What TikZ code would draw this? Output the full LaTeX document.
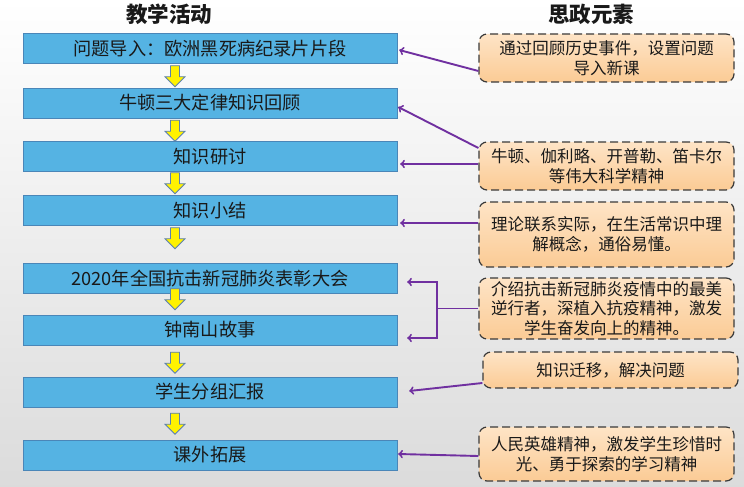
\documentclass[tikz,border=0pt]{standalone}
\usepackage{fontspec}
\setmainfont{Noto Sans CJK SC}
\usepackage{tikz}
\usetikzlibrary{calc}

\definecolor{boxblue}{HTML}{55B3E3}
\definecolor{boxline}{HTML}{4A86B8}
\definecolor{flowline}{HTML}{5A7FB0}
\definecolor{notetop}{HTML}{FEE4C6}
\definecolor{notebottom}{HTML}{FBCB95}
\definecolor{notegray}{HTML}{3A3A3A}
\definecolor{linkpurple}{HTML}{7030A0}

% yellow block arrow under box #1, top offset #2 (px), length 21 px
\newcommand{\flowarrow}[2]{%
  \path ($(#1.south)+(-35,#2)$) coordinate (ft) ($(ft)+(0,21)$) coordinate (fb);
  \draw[flow] ($(ft)+(-4.5,0)$) -- ($(ft)+(4.5,0)$) -- ($(fb)+(4.5,-10)$)
    -- ($(fb)+(10,-10)$) -- (fb) -- ($(fb)+(-10,-10)$) -- ($(fb)+(-4.5,-10)$) -- cycle;}

\begin{document}
\begin{tikzpicture}[
    x=1pt, y=-1pt,
    title/.style={font=\fontsize{21.5}{24}\selectfont\bfseries, text=black!90},
    box/.style={rectangle, draw=boxline, fill=boxblue, minimum width=374pt, minimum height=30pt,
        inner sep=0pt, font=\fontsize{18.2}{20}\selectfont, text=black!90},
    note/.style={rectangle, rounded corners=8pt, draw=notegray, dashed, dash pattern=on 8pt off 4pt,
        line width=1.2pt, top color=notetop, bottom color=notebottom, minimum width=255pt,
        inner sep=0pt, align=center, font=\fontsize{16.5}{19.5}\selectfont, text=black!90},
    flow/.style={draw=flowline, fill=yellow, line width=0.8pt, line join=miter},
    link/.style={->, >=to, draw=linkpurple, line width=1.9pt},
    linkline/.style={draw=linkpurple, line width=1.9pt}
]
    % background
    \shade[top color=white, bottom color=black!14] (0,0) rectangle (744,487);
    \useasboundingbox (0,0) rectangle (744,487);

    % column titles
    \node[title] (tleft) at (169,14) {教学活动};
    \node[title] (tright) at (591,14) {思政元素};

    % teaching activities
    \node[box] (box1) at (210,48.5) {问题导入：欧洲黑死病纪录片片段};
    \node[box] (box2) at (210,103) {牛顿三大定律知识回顾};
    \node[box] (box3) at (210,156.5) {知识研讨};
    \node[box] (box4) at (210,210.5) {知识小结};
    \node[box] (box5) at (210,278.5) {2020年全国抗击新冠肺炎表彰大会};
    \node[box] (box6) at (210,330) {钟南山故事};
    \node[box] (box7) at (210,392) {学生分组汇报};
    \node[box] (box8) at (210,455) {课外拓展};

    % flow arrows
    \flowarrow{box1}{2}
    \flowarrow{box2}{2}
    \flowarrow{box3}{1}
    \flowarrow{box4}{2}
    \flowarrow{box5}{-5}
    \flowarrow{box6}{7}
    \flowarrow{box7}{6}

    % ideological elements
    \node[note, minimum height=48pt] (r1) at (606.5,58) {通过回顾历史事件，设置问题\\导入新课};
    \node[note, minimum height=48pt] (r2) at (606.5,166) {牛顿、伽利略、开普勒、笛卡尔\\等伟大科学精神};
    \node[note, minimum height=65pt] (r3) at (606.5,234.5) {理论联系实际，在生活常识中理\\解概念，通俗易懂。};
    \node[note, minimum height=61pt] (r4) at (606.5,308.5) {介绍抗击新冠肺炎疫情中的最美\\逆行者，深植入抗疫精神，激发\\学生奋发向上的精神。};
    \node[note, minimum height=36pt] (r5) at (610.5,370) {知识迁移，解决问题};
    \node[note, minimum height=54pt] (r6) at (606.5,454) {人民英雄精神，激发学生珍惜时\\光、勇于探索的学习精神};

    % links
    \draw[link] ($(r1.west)+(0,13)$) -- ($(box1.east)+(2,1.5)$);
    \draw[link] ($(r2.west)+(0,-18)$) -- ($(box2.east)+(1,4)$);
    \draw[link] ($(r2.west)+(0,-2)$) -- ($(box3.east)+(3,7.5)$);
    \draw[link] ($(r3.west)+(0,-11.5)$) -- ($(box4.east)+(3,12.5)$);
    \coordinate (fork) at ($(r4.west)+(-41,0)$);
    \draw[linkline] (r4.west) -- (fork);
    \draw[link] (fork) |- ($(box5.east)+(10,3.5)$);
    \draw[link] (fork) |- ($(box6.east)+(10,8)$);
    \draw[link] ($(r5.west)+(0,13)$) -- ($(box7.east)+(12,-1)$);
    \draw[link] ($(r6.west)+(0,2)$) -- ($(box8.east)+(1,-1)$);
\end{tikzpicture}
\end{document}
